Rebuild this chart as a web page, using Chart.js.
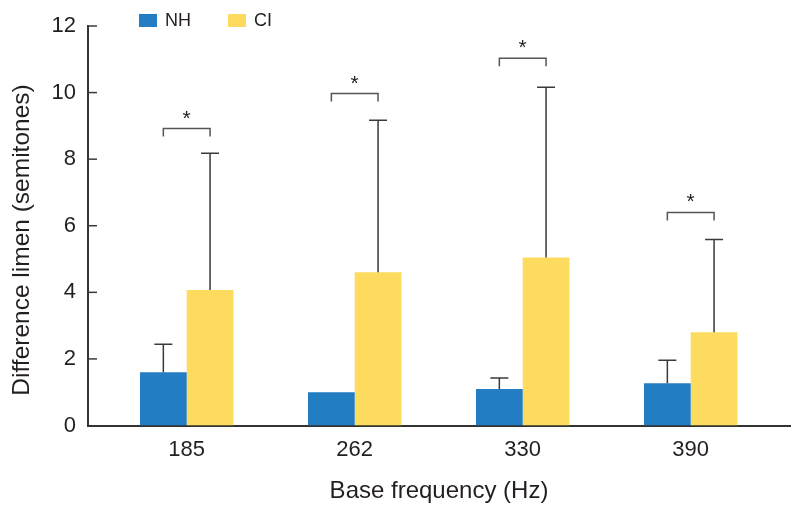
<!DOCTYPE html>
<html>
<head>
<meta charset="utf-8">
<script src="https://cdn.jsdelivr.net/npm/chart.js@4"></script>
<style>
  html, body { margin: 0; padding: 0; background: #fff; }
  canvas { display: block; }
</style>
</head>
<body>
<canvas id="chart" width="792" height="509"></canvas>
<script>
// base frequencies (Hz)
const categories = ['185', '262', '330', '390']
// mean difference limen (semitones)
const nhMeans = [1.6, 1.0, 1.1, 1.27]
const ciMeans = [4.07, 4.6, 5.05, 2.8]
// upper end of error bars (mean + SD)
const nhErrTop = [2.44, null, 1.43, 1.96]
const ciErrTop = [8.18, 9.17, 10.16, 5.59]
// height of significance brackets
const bracketY = [8.92, 9.97, 11.03, 6.4]
const sigLabels = ['*', '*', '*', '*']
const yTicks = [0, 2, 4, 6, 8, 10, 12]
const yTitle = 'Difference limen (semitones)'

const NH_COLOR = '#237dc3'
const CI_COLOR = '#fddb5e'
const INK = '#231f20'
const FONT = "'Liberation Sans', Arial, Helvetica, sans-serif"

const overlay = {
  id: 'overlay',
  afterDatasetsDraw(chart) {
    const { ctx, chartArea } = chart
    const y = chart.scales.y
    ctx.save()

    // inward tick marks on y axis
    ctx.strokeStyle = '#3a3a3a'
    ctx.lineWidth = 1.5
    y.ticks.forEach(t => {
      if (t.value === 0) return
      const py = y.getPixelForValue(t.value)
      ctx.beginPath()
      ctx.moveTo(chartArea.left, py)
      ctx.lineTo(chartArea.left + 9, py)
      ctx.stroke()
    })

    // error bars (upper only)
    ;[nhErrTop, ciErrTop].forEach((errs, di) => {
      const meta = chart.getDatasetMeta(di)
      meta.data.forEach((bar, i) => {
        if (errs[i] == null) return
        const top = y.getPixelForValue(errs[i])
        ctx.beginPath()
        ctx.moveTo(bar.x, bar.y)
        ctx.lineTo(bar.x, top)
        ctx.moveTo(bar.x - 9, top)
        ctx.lineTo(bar.x + 9, top)
        ctx.stroke()
      })
    })

    // significance brackets
    const nhMeta = chart.getDatasetMeta(0)
    const ciMeta = chart.getDatasetMeta(1)
    ctx.strokeStyle = '#555'
    ctx.fillStyle = INK
    ctx.font = `21px ${FONT}`
    ctx.textAlign = 'center'
    ctx.textBaseline = 'alphabetic'
    bracketY.forEach((v, i) => {
      const x1 = nhMeta.data[i].x
      const x2 = ciMeta.data[i].x
      const py = y.getPixelForValue(v)
      ctx.beginPath()
      ctx.moveTo(x1, py + 8)
      ctx.lineTo(x1, py)
      ctx.lineTo(x2, py)
      ctx.lineTo(x2, py + 8)
      ctx.stroke()
      ctx.fillText(sigLabels[i], (x1 + x2) / 2, py - 4)
    })
    ctx.restore()
  },
  afterDraw(chart) {
    const { ctx } = chart
    ctx.save()
    // legend
    ctx.font = `18px ${FONT}`
    ctx.textBaseline = 'middle'
    ctx.textAlign = 'left'
    const items = [['NH', NH_COLOR, 139], ['CI', CI_COLOR, 228]]
    items.forEach(([label, color, x]) => {
      ctx.fillStyle = color
      ctx.fillRect(x, 14, 18, 13)
      ctx.fillStyle = INK
      ctx.fillText(label, x + 26, 21)
    })
    // y axis title (sits a bit lower than the axis centre in the original)
    ctx.translate(22, 240)
    ctx.rotate(-Math.PI / 2)
    ctx.font = `24.5px ${FONT}`
    ctx.textAlign = 'center'
    ctx.fillText(yTitle, 0, 0)
    ctx.restore()
  }
}

new Chart(document.getElementById('chart'), {
  type: 'bar',
  data: {
    datasets: [
      { label: 'NH', data: nhMeans.map((v, i) => ({ x: i, y: v })), backgroundColor: NH_COLOR, borderWidth: 0 },
      { label: 'CI', data: ciMeans.map((v, i) => ({ x: i, y: v })), backgroundColor: CI_COLOR, borderWidth: 0 }
    ]
  },
  options: {
    responsive: false,
    animation: false,
    devicePixelRatio: 1,
    categoryPercentage: 0.556,
    barPercentage: 1,
    layout: { padding: { top: 26, right: 2, bottom: 0, left: 0 } },
    plugins: { legend: { display: false }, tooltip: { enabled: false } },
    scales: {
      x: {
        type: 'linear',
        offset: false,
        min: -0.5875,
        max: 3.591,
        afterBuildTicks: s => { s.ticks = categories.map((c, i) => ({ value: i })) },
        afterFit: s => { s.height = 83.5 },
        grid: { display: false, drawTicks: false },
        border: { display: true, color: '#333', width: 2 },
        ticks: { color: INK, font: { family: FONT, size: 22 }, padding: 11, maxRotation: 0, autoSkip: false, callback: v => categories[v] },
        title: { display: true, text: 'Base frequency (Hz)', color: INK, font: { family: FONT, size: 24 }, padding: { top: 4, bottom: 3 } }
      },
      y: {
        min: 0,
        max: 12,
        afterBuildTicks: s => { s.ticks = yTicks.map(v => ({ value: v })) },
        afterFit: s => { s.width = 88 },
        grid: { display: false, drawTicks: false },
        border: { display: true, color: '#333', width: 2 },
        ticks: { color: INK, font: { family: FONT, size: 22 }, padding: 12 },
        title: { display: false }
      }
    }
  },
  plugins: [overlay]
})
</script>
</body>
</html>
